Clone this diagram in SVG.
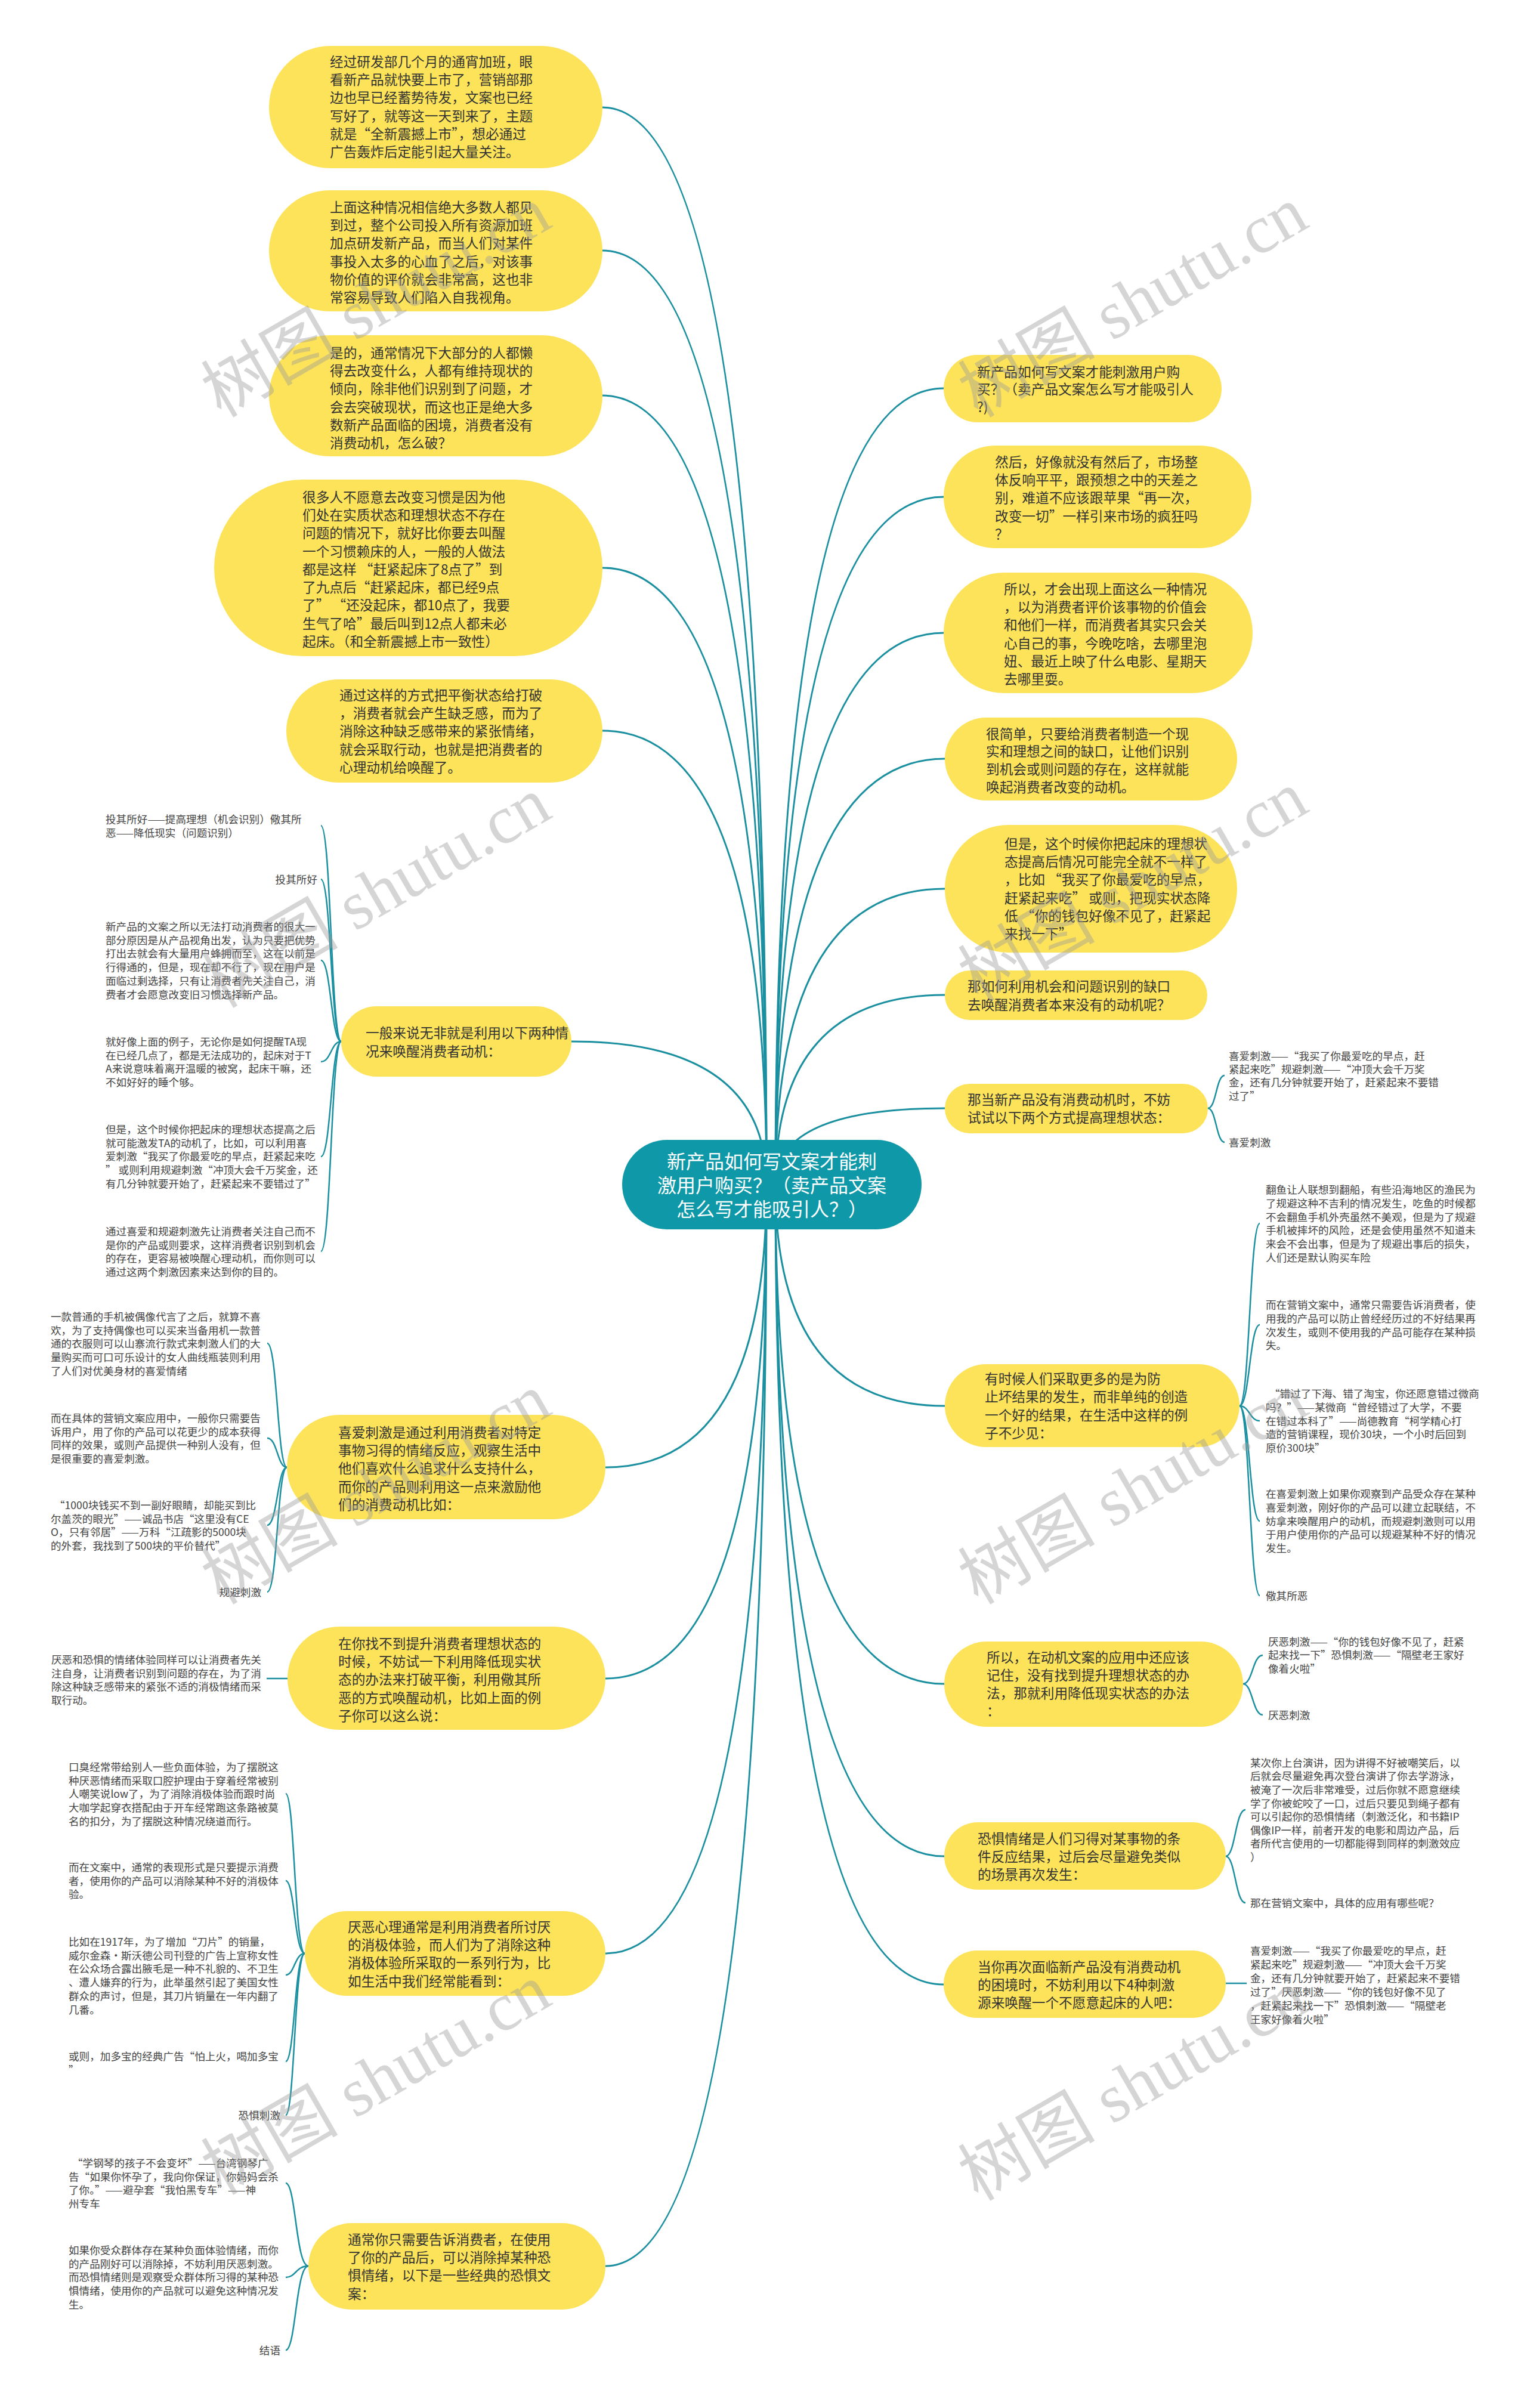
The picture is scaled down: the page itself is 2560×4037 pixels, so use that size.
<svg xmlns="http://www.w3.org/2000/svg" width="2560" height="4037" viewBox="0 0 2560 4037">
<style>
.node{fill:#fde35a}
.root{fill:#0f99a8}
.t{font-family:"Noto Sans CJK SC","Liberation Sans",sans-serif;font-size:22.7px;fill:#333}
.rt{font-family:"Noto Sans CJK SC","Liberation Sans",sans-serif;font-size:32px;fill:#fff;text-anchor:middle}
.s{font-family:"Noto Sans CJK SC","Liberation Sans",sans-serif;font-size:17.6px;fill:#444}
.e{text-anchor:end}
.c1{fill:none;stroke:#1a8fa0;stroke-width:3}
.c2{fill:none;stroke:#1a8fa0;stroke-width:2.5}
.wm{font-family:"Liberation Serif","Noto Sans CJK SC",serif;font-size:115px;fill:#9a9a9a;fill-opacity:0.42}
</style>
<rect width="2560" height="4037" fill="#fff"/>
<g id="connectors">
<path class="c1" d="M1285,1986 Q1285,180 1010,180"/>
<path class="c1" d="M1285,1986 Q1285,420 1010,420"/>
<path class="c1" d="M1285,1986 Q1285,663 1010,663"/>
<path class="c1" d="M1285,1986 Q1285,952 1010,952"/>
<path class="c1" d="M1285,1986 Q1285,1225 1010,1225"/>
<path class="c1" d="M1285,1986 Q1285,1746 958,1746"/>
<path class="c1" d="M1300,1986 Q1300,651 1582,651"/>
<path class="c1" d="M1300,1986 Q1300,833 1582,833"/>
<path class="c1" d="M1300,1986 Q1300,1061 1582,1061"/>
<path class="c1" d="M1300,1986 Q1300,1272 1584,1272"/>
<path class="c1" d="M1300,1986 Q1300,1490 1584,1490"/>
<path class="c1" d="M1300,1986 Q1300,1668 1584,1668"/>
<path class="c1" d="M1300,1986 Q1300,1858 1584,1858"/>
<path class="c1" d="M1285,1986 Q1285,2460 1015,2460"/>
<path class="c1" d="M1285,1986 Q1285,2814 1015,2814"/>
<path class="c1" d="M1285,1986 Q1285,3275 1015,3275"/>
<path class="c1" d="M1285,1986 Q1285,3799 1015,3799"/>
<path class="c1" d="M1300,1986 Q1300,2357 1584,2357"/>
<path class="c1" d="M1300,1986 Q1300,2823 1583,2823"/>
<path class="c1" d="M1300,1986 Q1300,3112 1583,3112"/>
<path class="c1" d="M1300,1986 Q1300,3327 1582,3327"/>
<!-- group A -->
<path class="c2" d="M572,1746 C555,1746 555,1384 538,1384"/>
<path class="c2" d="M572,1746 C555,1746 555,1474 538,1474"/>
<path class="c2" d="M572,1746 C555,1746 555,1610 538,1610"/>
<path class="c2" d="M572,1746 C555,1746 555,1780 538,1780"/>
<path class="c2" d="M572,1746 C555,1746 555,1939 538,1939"/>
<path class="c2" d="M572,1746 C555,1746 555,2098 538,2098"/>
<!-- group B -->
<path class="c2" d="M481,2460 C465,2460 465,2252 448,2252"/>
<path class="c2" d="M481,2460 C465,2460 465,2411 448,2411"/>
<path class="c2" d="M481,2460 C465,2460 465,2557 448,2557"/>
<path class="c2" d="M481,2460 C465,2460 465,2669 448,2669"/>
<!-- group C -->
<path class="c2" d="M447,2814 L482,2814"/>
<!-- group D -->
<path class="c2" d="M511,3275 C494,3275 494,3007 479,3007"/>
<path class="c2" d="M511,3275 C494,3275 494,3153 479,3153"/>
<path class="c2" d="M511,3275 C494,3275 494,3311 479,3311"/>
<path class="c2" d="M511,3275 C494,3275 494,3456 479,3456"/>
<path class="c2" d="M511,3275 C494,3275 494,3546 479,3546"/>
<!-- group E -->
<path class="c2" d="M517,3799 C496,3799 496,3660 479,3660"/>
<path class="c2" d="M517,3799 C496,3799 496,3818 479,3818"/>
<path class="c2" d="M517,3799 C496,3799 496,3940 479,3940"/>
<!-- group F -->
<path class="c2" d="M2025,1858 C2039,1858 2039,1803 2053,1803"/>
<path class="c2" d="M2025,1858 C2039,1858 2039,1915 2053,1915"/>
<!-- group G -->
<path class="c2" d="M2078,2357 C2095,2357 2095,2051 2112,2051"/>
<path class="c2" d="M2078,2357 C2095,2357 2095,2221 2112,2221"/>
<path class="c2" d="M2078,2357 C2095,2357 2095,2382 2112,2382"/>
<path class="c2" d="M2078,2357 C2095,2357 2095,2550 2112,2550"/>
<path class="c2" d="M2078,2357 C2095,2357 2095,2675 2112,2675"/>
<!-- group H -->
<path class="c2" d="M2084,2823 C2100,2823 2100,2775 2117,2775"/>
<path class="c2" d="M2084,2823 C2100,2823 2100,2875 2117,2875"/>
<!-- group I -->
<path class="c2" d="M2055,3112 C2071,3112 2071,3034 2088,3034"/>
<path class="c2" d="M2055,3112 C2071,3112 2071,3190 2088,3190"/>
<!-- group J -->
<path class="c2" d="M2055,3325 L2090,3325"/>
</g>

<g id="root">
<rect class="root" x="1043" y="1911" width="502" height="150" rx="75"/>
<text class="rt" x="1294" y="1959"><tspan x="1294">新产品如何写文案才能刺</tspan><tspan x="1294" dy="40">激用户购买？（卖产品文案</tspan><tspan x="1294" dy="40">怎么写才能吸引人？）</tspan></text>
</g>

<g id="L1">
<rect class="node" x="451" y="77" width="559" height="205" rx="102.5"/>
<text class="t" x="553" y="111.6"><tspan x="553">经过研发部几个月的通宵加班，眼</tspan><tspan x="553" dy="30.3">看新产品就快要上市了，营销部那</tspan><tspan x="553" dy="30.3">边也早已经蓄势待发，文案也已经</tspan><tspan x="553" dy="30.3">写好了，就等这一天到来了，主题</tspan><tspan x="553" dy="30.3">就是“全新震撼上市”，想必通过</tspan><tspan x="553" dy="30.3">广告轰炸后定能引起大量关注。</tspan></text>
</g>
<g id="L2">
<rect class="node" x="451" y="319" width="559" height="203" rx="101.5"/>
<text class="t" x="553" y="355.6"><tspan x="553">上面这种情况相信绝大多数人都见</tspan><tspan x="553" dy="30.3">到过，整个公司投入所有资源加班</tspan><tspan x="553" dy="30.3">加点研发新产品，而当人们对某件</tspan><tspan x="553" dy="30.3">事投入太多的心血了之后，对该事</tspan><tspan x="553" dy="30.3">物价值的评价就会非常高，这也非</tspan><tspan x="553" dy="30.3">常容易导致人们陷入自我视角。</tspan></text>
</g>
<g id="L3">
<rect class="node" x="451" y="562" width="559" height="203" rx="101.5"/>
<text class="t" x="553" y="599.6"><tspan x="553">是的，通常情况下大部分的人都懒</tspan><tspan x="553" dy="30.3">得去改变什么，人都有维持现状的</tspan><tspan x="553" dy="30.3">倾向，除非他们识别到了问题，才</tspan><tspan x="553" dy="30.3">会去突破现状，而这也正是绝大多</tspan><tspan x="553" dy="30.3">数新产品面临的困境，消费者没有</tspan><tspan x="553" dy="30.3">消费动机，怎么破？</tspan></text>
</g>
<g id="L4">
<rect class="node" x="359" y="804" width="651" height="296" rx="148"/>
<text class="t" x="507" y="841.6"><tspan x="507">很多人不愿意去改变习惯是因为他</tspan><tspan x="507" dy="30.3">们处在实质状态和理想状态不存在</tspan><tspan x="507" dy="30.3">问题的情况下，就好比你要去叫醒</tspan><tspan x="507" dy="30.3">一个习惯赖床的人，一般的人做法</tspan><tspan x="507" dy="30.3">都是这样 “赶紧起床了8点了”到</tspan><tspan x="507" dy="30.3">了九点后“赶紧起床，都已经9点</tspan><tspan x="507" dy="30.3">了” “还没起床，都10点了，我要</tspan><tspan x="507" dy="30.3">生气了哈”最后叫到12点人都未必</tspan><tspan x="507" dy="30.3">起床。（和全新震撼上市一致性）</tspan></text>
</g>
<g id="L5">
<rect class="node" x="480" y="1139" width="530" height="173" rx="86.5"/>
<text class="t" x="569" y="1173.6"><tspan x="569">通过这样的方式把平衡状态给打破</tspan><tspan x="569" dy="30.3">，消费者就会产生缺乏感，而为了</tspan><tspan x="569" dy="30.3">消除这种缺乏感带来的紧张情绪，</tspan><tspan x="569" dy="30.3">就会采取行动，也就是把消费者的</tspan><tspan x="569" dy="30.3">心理动机给唤醒了。</tspan></text>
</g>
<g id="L6">
<rect class="node" x="572" y="1687" width="386" height="118" rx="59"/>
<text class="t" x="613" y="1739.6"><tspan x="613">一般来说无非就是利用以下两种情</tspan><tspan x="613" dy="31">况来唤醒消费者动机：</tspan></text>
</g>
<g id="L7">
<rect class="node" x="481" y="2372" width="534" height="175" rx="87.5"/>
<text class="t" x="567" y="2409.6"><tspan x="567">喜爱刺激是通过利用消费者对特定</tspan><tspan x="567" dy="30.3">事物习得的情绪反应，观察生活中</tspan><tspan x="567" dy="30.3">他们喜欢什么追求什么支持什么，</tspan><tspan x="567" dy="30.3">而你的产品则利用这一点来激励他</tspan><tspan x="567" dy="30.3">们的消费动机比如：</tspan></text>
</g>
<g id="L8">
<rect class="node" x="482" y="2727" width="533" height="173" rx="86.5"/>
<text class="t" x="567" y="2763.6"><tspan x="567">在你找不到提升消费者理想状态的</tspan><tspan x="567" dy="30.3">时候，不妨试一下利用降低现实状</tspan><tspan x="567" dy="30.3">态的办法来打破平衡，利用儆其所</tspan><tspan x="567" dy="30.3">恶的方式唤醒动机，比如上面的例</tspan><tspan x="567" dy="30.3">子你可以这么说：</tspan></text>
</g>
<g id="L9">
<rect class="node" x="511" y="3204" width="504" height="142" rx="71"/>
<text class="t" x="583" y="3238.6"><tspan x="583">厌恶心理通常是利用消费者所讨厌</tspan><tspan x="583" dy="30.3">的消极体验，而人们为了消除这种</tspan><tspan x="583" dy="30.3">消极体验所采取的一系列行为，比</tspan><tspan x="583" dy="30.3">如生活中我们经常能看到：</tspan></text>
</g>
<g id="L10">
<rect class="node" x="517" y="3727" width="498" height="145" rx="72.5"/>
<text class="t" x="583" y="3762.6"><tspan x="583">通常你只需要告诉消费者，在使用</tspan><tspan x="583" dy="30.3">了你的产品后，可以消除掉某种恐</tspan><tspan x="583" dy="30.3">惧情绪，以下是一些经典的恐惧文</tspan><tspan x="583" dy="30.3">案：</tspan></text>
</g>

<g id="R1">
<rect class="node" x="1582" y="595" width="466" height="113" rx="56.5"/>
<text class="t" x="1638" y="631.6"><tspan x="1638">新产品如何写文案才能刺激用户购</tspan><tspan x="1638" dy="29.5">买？（卖产品文案怎么写才能吸引人</tspan><tspan x="1638" dy="29.5">?)</tspan></text>
</g>
<g id="R2">
<rect class="node" x="1582" y="747" width="516" height="172" rx="86"/>
<text class="t" x="1668" y="782.6"><tspan x="1668">然后，好像就没有然后了，市场整</tspan><tspan x="1668" dy="30.3">体反响平平，跟预想之中的天差之</tspan><tspan x="1668" dy="30.3">别，难道不应该跟苹果“再一次，</tspan><tspan x="1668" dy="30.3">改变一切”一样引来市场的疯狂吗</tspan><tspan x="1668" dy="30.3">？</tspan></text>
</g>
<g id="R3">
<rect class="node" x="1582" y="960" width="518" height="202" rx="101"/>
<text class="t" x="1683" y="995.6"><tspan x="1683">所以，才会出现上面这么一种情况</tspan><tspan x="1683" dy="30.3">，以为消费者评价该事物的价值会</tspan><tspan x="1683" dy="30.3">和他们一样，而消费者其实只会关</tspan><tspan x="1683" dy="30.3">心自己的事，今晚吃啥，去哪里泡</tspan><tspan x="1683" dy="30.3">妞、最近上映了什么电影、星期天</tspan><tspan x="1683" dy="30.3">去哪里耍。</tspan></text>
</g>
<g id="R4">
<rect class="node" x="1584" y="1203" width="490" height="139" rx="69.5"/>
<text class="t" x="1653" y="1238.6"><tspan x="1653">很简单，只要给消费者制造一个现</tspan><tspan x="1653" dy="29.7">实和理想之间的缺口，让他们识别</tspan><tspan x="1653" dy="29.7">到机会或则问题的存在，这样就能</tspan><tspan x="1653" dy="29.7">唤起消费者改变的动机。</tspan></text>
</g>
<g id="R5">
<rect class="node" x="1584" y="1383" width="490" height="214" rx="107"/>
<text class="t" x="1684" y="1422.6"><tspan x="1684">但是，这个时候你把起床的理想状</tspan><tspan x="1684" dy="30.3">态提高后情况可能完全就不一样了</tspan><tspan x="1684" dy="30.3">，比如 “我买了你最爱吃的早点，</tspan><tspan x="1684" dy="30.3">赶紧起来吃” 或则，把现实状态降</tspan><tspan x="1684" dy="30.3">低 “你的钱包好像不见了，赶紧起</tspan><tspan x="1684" dy="30.3">来找一下”</tspan></text>
</g>
<g id="R6">
<rect class="node" x="1584" y="1627" width="440" height="83" rx="41.5"/>
<text class="t" x="1622" y="1661.6"><tspan x="1622">那如何利用机会和问题识别的缺口</tspan><tspan x="1622" dy="31">去唤醒消费者本来没有的动机呢？</tspan></text>
</g>
<g id="R7">
<rect class="node" x="1584" y="1817" width="441" height="83" rx="41.5"/>
<text class="t" x="1622" y="1851.6"><tspan x="1622">那当新产品没有消费动机时，不妨</tspan><tspan x="1622" dy="30">试试以下两个方式提高理想状态：</tspan></text>
</g>
<g id="R8">
<rect class="node" x="1584" y="2287" width="494" height="139" rx="69.5"/>
<text class="t" x="1651" y="2319.6"><tspan x="1651">有时候人们采取更多的是为防</tspan><tspan x="1651" dy="30.5">止坏结果的发生，而非单纯的创造</tspan><tspan x="1651" dy="30.5">一个好的结果，在生活中这样的例</tspan><tspan x="1651" dy="30.5">子不少见：</tspan></text>
</g>
<g id="R9">
<rect class="node" x="1583" y="2752" width="501" height="143" rx="71.5"/>
<text class="t" x="1654" y="2786.6"><tspan x="1654">所以，在动机文案的应用中还应该</tspan><tspan x="1654" dy="30">记住，没有找到提升理想状态的办</tspan><tspan x="1654" dy="30">法，那就利用降低现实状态的办法</tspan><tspan x="1654" dy="30">：</tspan></text>
</g>
<g id="R10">
<rect class="node" x="1583" y="3055" width="472" height="113" rx="56.5"/>
<text class="t" x="1639" y="3090.6"><tspan x="1639">恐惧情绪是人们习得对某事物的条</tspan><tspan x="1639" dy="30">件反应结果，过后会尽量避免类似</tspan><tspan x="1639" dy="30">的场景再次发生：</tspan></text>
</g>
<g id="R11">
<rect class="node" x="1582" y="3270" width="473" height="113" rx="56.5"/>
<text class="t" x="1639" y="3305.6"><tspan x="1639">当你再次面临新产品没有消费动机</tspan><tspan x="1639" dy="30">的困境时，不妨利用以下4种刺激</tspan><tspan x="1639" dy="30">源来唤醒一个不愿意起床的人吧：</tspan></text>
</g>

<g id="A1"><text class="s" x="177" y="1379.7"><tspan x="177">投其所好——提高理想（机会识别）儆其所</tspan><tspan x="177" dy="22.8">恶——降低现实（问题识别）</tspan></text></g>
<g id="A2"><text class="s e" x="532" y="1480.7">投其所好</text></g>
<g id="A3"><text class="s" x="177" y="1559.7"><tspan x="177">新产品的文案之所以无法打动消费者的很大一</tspan><tspan x="177" dy="22.8">部分原因是从产品视角出发，认为只要把优势</tspan><tspan x="177" dy="22.8">打出去就会有大量用户蜂拥而至，这在以前是</tspan><tspan x="177" dy="22.8">行得通的，但是，现在却不行了，现在用户是</tspan><tspan x="177" dy="22.8">面临过剩选择，只有让消费者先关注自己，消</tspan><tspan x="177" dy="22.8">费者才会愿意改变旧习惯选择新产品。</tspan></text></g>
<g id="A4"><text class="s" x="177" y="1752.7"><tspan x="177">就好像上面的例子，无论你是如何提醒TA现</tspan><tspan x="177" dy="22.8">在已经几点了，都是无法成功的，起床对于T</tspan><tspan x="177" dy="22.8">A来说意味着离开温暖的被窝，起床干嘛，还</tspan><tspan x="177" dy="22.8">不如好好的睡个够。</tspan></text></g>
<g id="A5"><text class="s" x="177" y="1899.7"><tspan x="177">但是，这个时候你把起床的理想状态提高之后</tspan><tspan x="177" dy="22.8">就可能激发TA的动机了，比如，可以利用喜</tspan><tspan x="177" dy="22.8">爱刺激“我买了你最爱吃的早点，赶紧起来吃</tspan><tspan x="177" dy="22.8">” 或则利用规避刺激“冲顶大会千万奖金，还</tspan><tspan x="177" dy="22.8">有几分钟就要开始了，赶紧起来不要错过了”</tspan></text></g>
<g id="A6"><text class="s" x="177" y="2070.7"><tspan x="177">通过喜爱和规避刺激先让消费者关注自己而不</tspan><tspan x="177" dy="22.8">是你的产品或则要求，这样消费者识别到机会</tspan><tspan x="177" dy="22.8">的存在，更容易被唤醒心理动机，而你则可以</tspan><tspan x="177" dy="22.8">通过这两个刺激因素来达到你的目的。</tspan></text></g>

<g id="B1"><text class="s" x="85" y="2213.7"><tspan x="85">一款普通的手机被偶像代言了之后，就算不喜</tspan><tspan x="85" dy="22.8">欢，为了支持偶像也可以买来当备用机一款普</tspan><tspan x="85" dy="22.8">通的衣服则可以山寨流行款式来刺激人们的大</tspan><tspan x="85" dy="22.8">量购买而可口可乐设计的女人曲线瓶装则利用</tspan><tspan x="85" dy="22.8">了人们对优美身材的喜爱情绪</tspan></text></g>
<g id="B2"><text class="s" x="85" y="2383.7"><tspan x="85">而在具体的营销文案应用中，一般你只需要告</tspan><tspan x="85" dy="22.8">诉用户，用了你的产品可以花更少的成本获得</tspan><tspan x="85" dy="22.8">同样的效果，或则产品提供一种别人没有，但</tspan><tspan x="85" dy="22.8">是很重要的喜爱刺激。</tspan></text></g>
<g id="B3"><text class="s" x="85" y="2529.7"><tspan x="91">“1000块钱买不到一副好眼睛，却能买到比</tspan><tspan x="85" dy="22.8">尔盖茨的眼光”——诚品书店“这里没有CE</tspan><tspan x="85" dy="22.8">O，只有邻居”——万科“江疏影的5000块</tspan><tspan x="85" dy="22.8">的外套，我找到了500块的平价替代”</tspan></text></g>
<g id="B4"><text class="s e" x="438" y="2675.7">规避刺激</text></g>

<g id="C1"><text class="s" x="86" y="2788.7"><tspan x="86">厌恶和恐惧的情绪体验同样可以让消费者先关</tspan><tspan x="86" dy="22.8">注自身，让消费者识别到问题的存在，为了消</tspan><tspan x="86" dy="22.8">除这种缺乏感带来的紧张不适的消极情绪而采</tspan><tspan x="86" dy="22.8">取行动。</tspan></text></g>

<g id="D1"><text class="s" x="115" y="2968.7"><tspan x="115">口臭经常带给别人一些负面体验，为了摆脱这</tspan><tspan x="115" dy="22.8">种厌恶情绪而采取口腔护理由于穿着经常被别</tspan><tspan x="115" dy="22.8">人嘲笑说low了，为了消除消极体验而跟时尚</tspan><tspan x="115" dy="22.8">大咖学起穿衣搭配由于开车经常跑这条路被莫</tspan><tspan x="115" dy="22.8">名的扣分，为了摆脱这种情况绕道而行。</tspan></text></g>
<g id="D2"><text class="s" x="115" y="3136.7"><tspan x="115">而在文案中，通常的表现形式是只要提示消费</tspan><tspan x="115" dy="22.8">者，使用你的产品可以消除某种不好的消极体</tspan><tspan x="115" dy="22.8">验。</tspan></text></g>
<g id="D3"><text class="s" x="115" y="3261.7"><tspan x="115">比如在1917年，为了增加“刀片”的销量，</tspan><tspan x="115" dy="22.8">威尔金森·斯沃德公司刊登的广告上宣称女性</tspan><tspan x="115" dy="22.8">在公众场合露出腋毛是一种不礼貌的、不卫生</tspan><tspan x="115" dy="22.8">、遭人嫌弃的行为，此举虽然引起了美国女性</tspan><tspan x="115" dy="22.8">群众的声讨，但是，其刀片销量在一年内翻了</tspan><tspan x="115" dy="22.8">几番。</tspan></text></g>
<g id="D4"><text class="s" x="115" y="3453.7"><tspan x="115">或则，加多宝的经典广告“怕上火，喝加多宝</tspan><tspan x="115" dy="22.8">”</tspan></text></g>
<g id="D5"><text class="s e" x="470" y="3552.7">恐惧刺激</text></g>

<g id="E1"><text class="s" x="115" y="3632.7"><tspan x="121">“学钢琴的孩子不会变坏”——台湾钢琴广</tspan><tspan x="115" dy="22.8">告“如果你怀孕了，我向你保证，你妈妈会杀</tspan><tspan x="115" dy="22.8">了你。”——避孕套“我怕黑专车”——神</tspan><tspan x="115" dy="22.8">州专车</tspan></text></g>
<g id="E2"><text class="s" x="115" y="3778.7"><tspan x="115">如果你受众群体存在某种负面体验情绪，而你</tspan><tspan x="115" dy="22.8">的产品刚好可以消除掉，不妨利用厌恶刺激。</tspan><tspan x="115" dy="22.8">而恐惧情绪则是观察受众群体所习得的某种恐</tspan><tspan x="115" dy="22.8">惧情绪，使用你的产品就可以避免这种情况发</tspan><tspan x="115" dy="22.8">生。</tspan></text></g>
<g id="E3"><text class="s e" x="470" y="3946.7">结语</text></g>

<g id="F1"><text class="s" x="2060" y="1776.7"><tspan x="2060">喜爱刺激——“我买了你最爱吃的早点，赶</tspan><tspan x="2060" dy="22.3">紧起来吃”规避刺激——“冲顶大会千万奖</tspan><tspan x="2060" dy="22.3">金，还有几分钟就要开始了，赶紧起来不要错</tspan><tspan x="2060" dy="22.3">过了”</tspan></text></g>
<g id="F2"><text class="s" x="2060" y="1921.7">喜爱刺激</text></g>

<g id="G1"><text class="s" x="2122" y="2000.7"><tspan x="2122">翻鱼让人联想到翻船，有些沿海地区的渔民为</tspan><tspan x="2122" dy="22.9">了规避这种不吉利的情况发生，吃鱼的时候都</tspan><tspan x="2122" dy="22.9">不会翻鱼手机外壳虽然不美观，但是为了规避</tspan><tspan x="2122" dy="22.9">手机被摔坏的风险，还是会使用虽然不知道未</tspan><tspan x="2122" dy="22.9">来会不会出事，但是为了规避出事后的损失，</tspan><tspan x="2122" dy="22.9">人们还是默认购买车险</tspan></text></g>
<g id="G2"><text class="s" x="2122" y="2193.7"><tspan x="2122">而在营销文案中，通常只需要告诉消费者，使</tspan><tspan x="2122" dy="22.9">用我的产品可以防止曾经经历过的不好结果再</tspan><tspan x="2122" dy="22.9">次发生，或则不使用我的产品可能存在某种损</tspan><tspan x="2122" dy="22.9">失。</tspan></text></g>
<g id="G3"><text class="s" x="2122" y="2342.7"><tspan x="2128">“错过了下海、错了淘宝，你还愿意错过微商</tspan><tspan x="2122" dy="22.9">吗？”——某微商“曾经错过了大学，不要</tspan><tspan x="2122" dy="22.9">在错过本科了”——尚德教育“柯学精心打</tspan><tspan x="2122" dy="22.9">造的营销课程，现价30块，一个小时后回到</tspan><tspan x="2122" dy="22.9">原价300块”</tspan></text></g>
<g id="G4"><text class="s" x="2122" y="2510.7"><tspan x="2122">在喜爱刺激上如果你观察到产品受众存在某种</tspan><tspan x="2122" dy="22.9">喜爱刺激，刚好你的产品可以建立起联结，不</tspan><tspan x="2122" dy="22.9">妨拿来唤醒用户的动机，而规避刺激则可以用</tspan><tspan x="2122" dy="22.9">于用户使用你的产品可以规避某种不好的情况</tspan><tspan x="2122" dy="22.9">发生。</tspan></text></g>
<g id="G5"><text class="s" x="2122" y="2681.7">儆其所恶</text></g>

<g id="H1"><text class="s" x="2126" y="2758.7"><tspan x="2126">厌恶刺激——“你的钱包好像不见了，赶紧</tspan><tspan x="2126" dy="22.5">起来找一下”恐惧刺激——“隔壁老王家好</tspan><tspan x="2126" dy="22.5">像着火啦”</tspan></text></g>
<g id="H2"><text class="s" x="2126" y="2881.7">厌恶刺激</text></g>

<g id="I1"><text class="s" x="2096" y="2961.7"><tspan x="2096">某次你上台演讲，因为讲得不好被嘲笑后，以</tspan><tspan x="2096" dy="22.6">后就会尽量避免再次登台演讲了你去学游泳，</tspan><tspan x="2096" dy="22.6">被淹了一次后非常难受，过后你就不愿意继续</tspan><tspan x="2096" dy="22.6">学了你被蛇咬了一口，过后只要见到绳子都有</tspan><tspan x="2096" dy="22.6">可以引起你的恐惧情绪（刺激泛化，和书籍IP</tspan><tspan x="2096" dy="22.6">偶像IP一样，前者开发的电影和周边产品，后</tspan><tspan x="2096" dy="22.6">者所代言使用的一切都能得到同样的刺激效应</tspan><tspan x="2096" dy="22.6">）</tspan></text></g>
<g id="I2"><text class="s" x="2096" y="3196.7">那在营销文案中，具体的应用有哪些呢？</text></g>

<g id="J1"><text class="s" x="2096" y="3276.7"><tspan x="2096">喜爱刺激——“我买了你最爱吃的早点，赶</tspan><tspan x="2096" dy="23">紧起来吃”规避刺激——“冲顶大会千万奖</tspan><tspan x="2096" dy="23">金，还有几分钟就要开始了，赶紧起来不要错</tspan><tspan x="2096" dy="23">过了”厌恶刺激——“你的钱包好像不见了</tspan><tspan x="2096" dy="23">，赶紧起来找一下”恐惧刺激——“隔壁老</tspan><tspan x="2096" dy="23">王家好像着火啦”</tspan></text></g>

<g id="watermark">
<text class="wm" text-anchor="middle" transform="translate(650,540) rotate(-30)">树图 shutu.cn</text>
<text class="wm" text-anchor="middle" transform="translate(1919,540) rotate(-30)">树图 shutu.cn</text>
<text class="wm" text-anchor="middle" transform="translate(650,1530) rotate(-30)">树图 shutu.cn</text>
<text class="wm" text-anchor="middle" transform="translate(1919,1520) rotate(-30)">树图 shutu.cn</text>
<text class="wm" text-anchor="middle" transform="translate(650,2530) rotate(-30)">树图 shutu.cn</text>
<text class="wm" text-anchor="middle" transform="translate(1919,2530) rotate(-30)">树图 shutu.cn</text>
<text class="wm" text-anchor="middle" transform="translate(650,3520) rotate(-30)">树图 shutu.cn</text>
<text class="wm" text-anchor="middle" transform="translate(1919,3530) rotate(-30)">树图 shutu.cn</text>
</g>
</svg>
